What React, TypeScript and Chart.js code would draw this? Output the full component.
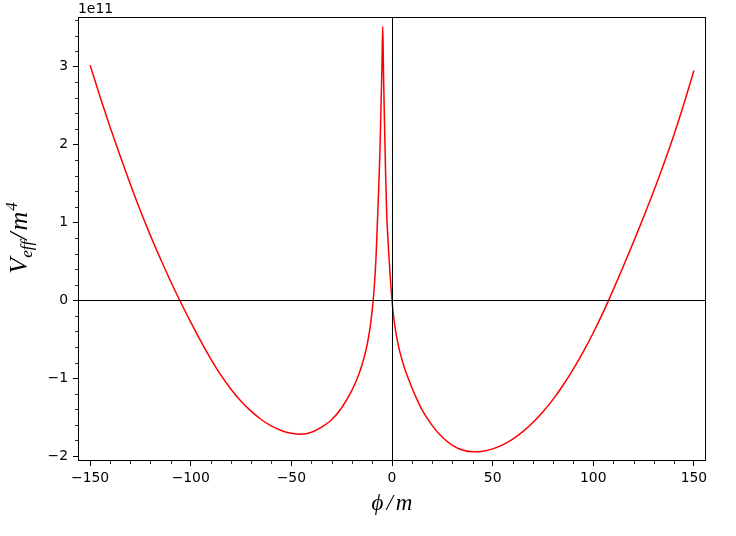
import React, { useEffect, useRef } from "react";
import { Chart, registerables } from "chart.js";

Chart.register(...registerables);

// phi / m values
const PHI: number[] = [
  -150, -145, -140, -135, -130, -125, -120, -115, -110, -105, -100, -95, -90, -85, -80, -75, -70, -65, -60, -55, -50, -45,
  -40, -35, -30, -25, -20, -17, -15, -13, -12, -11, -10, -9, -8, -7, -6, -5.5, -5, -4.6, -4.2, -3.8, -3.2, -2.6, -2, -1.5,
  -1, -0.5, 0, 0.5, 1, 2, 3, 4, 6, 8, 10, 12, 15, 20, 25, 30, 35, 40, 45, 50, 55, 60, 65, 70, 75, 80, 85, 90, 95, 100, 105,
  110, 115, 120, 125, 130, 135, 140, 145, 150,
];

// V_eff / m^4 in units of 1e11
const V_EFF: number[] = [
  3.02, 2.61, 2.22, 1.85, 1.49, 1.15, 0.83, 0.53, 0.245, -0.025, -0.28, -0.525, -0.755, -0.962, -1.143, -1.296, -1.424,
  -1.531, -1.613, -1.672, -1.708, -1.72, -1.695, -1.63, -1.535, -1.38, -1.16, -0.985, -0.838, -0.647, -0.523, -0.37,
  -0.169, 0.104, 0.515, 1.17, 1.9, 2.45, 3.0, 3.52, 2.9, 2.37, 1.65, 1.09, 0.78, 0.56, 0.35, 0.165, 0.0, -0.14, -0.25,
  -0.426, -0.561, -0.672, -0.854, -0.999, -1.13, -1.25, -1.41, -1.61, -1.76, -1.862, -1.922, -1.946, -1.939, -1.908,
  -1.856, -1.782, -1.687, -1.57, -1.432, -1.272, -1.091, -0.888, -0.663, -0.417, -0.149, 0.14, 0.44, 0.75, 1.07, 1.4,
  1.75, 2.12, 2.52, 2.95,
];

const X_MAJOR_STEP = 50;
const X_MINOR_STEP = 10;
const Y_MAJOR_STEP = 1;
const Y_MINOR_STEP = 0.2;
const Y_OFFSET_LABEL = "1e11";

const TICK_FONT = '"DejaVu Sans", sans-serif';
const MATH_FONT = '"Liberation Serif", "DejaVu Serif", serif';

const fmt = (v: number) => (v < 0 ? "\u2212" + Math.abs(v) : String(v));

const decorPlugin = {
  id: "decor",
  afterDatasetsDraw(chart: any) {
    const { ctx, chartArea: a, scales } = chart;
    const xs = scales.x;
    const ys = scales.y;
    ctx.save();
    ctx.strokeStyle = "#000";
    ctx.lineWidth = 1;
    const x0 = Math.round(xs.getPixelForValue(0)) + 0.5;
    const y0 = Math.round(ys.getPixelForValue(0)) + 0.5;
    ctx.beginPath();
    ctx.moveTo(a.left, y0);
    ctx.lineTo(a.right, y0);
    ctx.moveTo(x0, a.top);
    ctx.lineTo(x0, a.bottom);
    ctx.stroke();
    ctx.restore();
  },
  afterDraw(chart: any) {
    const { ctx, chartArea: a, scales } = chart;
    const xs = scales.x;
    const ys = scales.y;
    ctx.save();
    ctx.strokeStyle = "#000";
    ctx.lineWidth = 1;
    // spines
    ctx.strokeRect(a.left + 0.5, a.top + 0.5, a.right - a.left - 1, a.bottom - a.top - 1);
    // minor ticks
    ctx.lineWidth = 0.8;
    ctx.beginPath();
    for (let v = -200; v <= 200; v += X_MINOR_STEP) {
      if (Math.abs(v % X_MAJOR_STEP) < 1e-9) continue;
      if (v < xs.min || v > xs.max) continue;
      const px = Math.round(xs.getPixelForValue(v)) + 0.5;
      ctx.moveTo(px, a.bottom);
      ctx.lineTo(px, a.bottom + 3);
    }
    for (let k = -15; k <= 25; k++) {
      const v = k * Y_MINOR_STEP;
      if (k % 5 === 0) continue;
      if (v < ys.min || v > ys.max) continue;
      const py = Math.round(ys.getPixelForValue(v)) + 0.5;
      ctx.moveTo(a.left, py);
      ctx.lineTo(a.left - 3, py);
    }
    ctx.stroke();

    // offset text
    ctx.fillStyle = "#000";
    ctx.font = `13.9px ${TICK_FONT}`;
    ctx.textAlign = "left";
    ctx.textBaseline = "alphabetic";
    ctx.fillText(Y_OFFSET_LABEL, a.left, 13);

    // x axis title: ϕ/m
    const big = 23;
    ctx.font = `italic ${big}px ${MATH_FONT}`;
    const parts = ["\u03D5", "/", "m"];
    const gap = 3;
    const widths = parts.map((p) => ctx.measureText(p).width);
    const total = widths.reduce((s, w) => s + w, 0) + gap * 2;
    let cx = (a.left + a.right) / 2 - total / 2;
    const by = 510;
    parts.forEach((p, i) => {
      ctx.fillText(p, cx, by);
      cx += widths[i] + gap;
    });

    // y axis title: V_eff / m^4 (rotated)
    const yBig = 26;
    const small = 17;
    ctx.translate(27, (a.top + a.bottom) / 2 - 1);
    ctx.rotate(-Math.PI / 2);
    const seg = [
      { t: "V", f: yBig, dy: 0, gapAfter: 0 },
      { t: "eff", f: small, dy: 5, gapAfter: 1 },
      { t: "/", f: yBig, dy: 0, gapAfter: 2 },
      { t: "m", f: yBig, dy: 0, gapAfter: 1 },
      { t: "4", f: small, dy: -10, gapAfter: 0 },
    ];
    const sw = seg.map((s) => {
      ctx.font = `italic ${s.f}px ${MATH_FONT}`;
      return ctx.measureText(s.t).width + s.gapAfter;
    });
    const tot = sw.reduce((s, w) => s + w, 0);
    let lx = -tot / 2;
    seg.forEach((s, i) => {
      ctx.font = `italic ${s.f}px ${MATH_FONT}`;
      ctx.fillText(s.t, lx, s.dy);
      lx += sw[i];
    });
    ctx.restore();
  },
};

export default function App() {
  const ref = useRef<HTMLCanvasElement | null>(null);
  useEffect(() => {
    if (!ref.current) return;
    const data = PHI.map((x, i) => ({ x, y: V_EFF[i] }));
    const chart = new Chart(ref.current, {
      type: "line",
      data: {
        datasets: [
          {
            data,
            borderColor: "#ff0000",
            borderWidth: 1.5,
            pointRadius: 0,
            cubicInterpolationMode: "monotone",
            fill: false,
          },
        ],
      },
      options: {
        animation: false,
        responsive: false,
        maintainAspectRatio: false,
        layout: { padding: { top: 17, right: 30, left: 0, bottom: 0 } },
        plugins: { legend: { display: false }, tooltip: { enabled: false } },
        scales: {
          x: {
            type: "linear",
            min: -156,
            max: 156,
            afterFit: (s: any) => {
              s.height = 75;
            },
            ticks: {
              stepSize: X_MAJOR_STEP,
              includeBounds: false,
              color: "#000",
              font: { family: TICK_FONT, size: 13.9 },
              padding: 4,
              maxRotation: 0,
              callback: (v: any) => fmt(Number(v)),
            },
            grid: { drawOnChartArea: false, tickLength: 5, tickColor: "#000", color: "#000" },
            border: { display: false },
          },
          y: {
            type: "linear",
            min: -2.064,
            max: 3.638,
            afterFit: (s: any) => {
              s.width = 78;
            },
            ticks: {
              stepSize: Y_MAJOR_STEP,
              includeBounds: false,
              color: "#000",
              font: { family: TICK_FONT, size: 13.9 },
              padding: 5,
              callback: (v: any) => fmt(Number(v)),
            },
            grid: { drawOnChartArea: false, tickLength: 5, tickColor: "#000", color: "#000" },
            border: { display: false },
          },
        },
      },
      plugins: [decorPlugin],
    });
    return () => chart.destroy();
  }, []);
  return (
    <div style={{ position: "fixed", left: 0, top: 0, width: 736, height: 536, background: "#fff" }}>
      <canvas ref={ref} width={736} height={536} style={{ width: 736, height: 536, display: "block" }} />
    </div>
  );
}
